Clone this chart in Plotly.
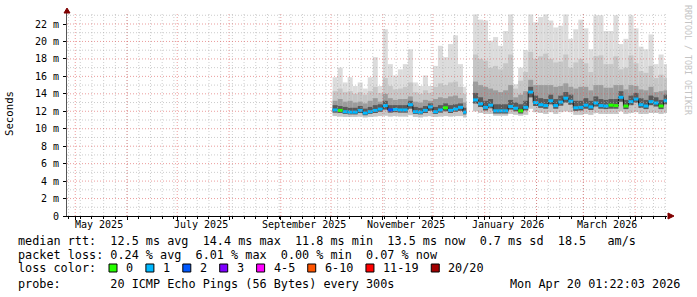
import plotly.graph_objects as go
import pandas as pd

# ---------------- data ----------------
x_range = ["2025-04-26 01:22:03", "2026-04-20 01:22:03"]
bucket_days = 3
seg1_start, seg1_end = "2025-10-02", "2025-12-21"
seg2_start, seg2_end = "2025-12-25", "2026-04-20 01:22:03"

# segment 1 (ms)
seg1_top = [15.9, 17.0, 15.3, 15.9, 14.9, 15.3, 14.6, 15.9, 18.2, 14.9, 21.4, 17.4, 16.1, 16.8,
            17.4, 19.1, 15.3, 14.9, 16.1, 14.9, 17.2, 19.5, 18.2, 19.7, 20.7, 17.4, 14.8]
seg1_q90 = [14.3, 14.6, 14.2, 14.3, 14.0, 14.2, 13.9, 14.3, 14.8, 14.1, 15.8, 14.9, 14.5, 14.6,
            14.8, 15.3, 14.2, 14.0, 14.4, 14.1, 14.8, 15.2, 15.0, 15.3, 15.4, 14.8, 14.0]
seg1_q75 = [13.2, 13.4, 13.1, 13.2, 13.0, 13.1, 12.9, 13.2, 13.5, 13.1, 14.0, 13.5, 13.3, 13.4,
            13.4, 13.7, 13.1, 13.0, 13.3, 13.2, 13.4, 13.6, 13.5, 13.7, 13.8, 13.5, 13.0]
seg1_q60 = [12.7, 12.6, 12.5, 12.4, 12.4, 12.6, 12.3, 12.5, 12.7, 12.8, 13.2, 12.7, 12.7, 12.7,
            12.7, 13.2, 12.5, 12.4, 12.6, 12.9, 12.5, 12.7, 12.9, 12.7, 12.8, 12.9, 12.4]
seg1_median = [12.15, 12.1, 11.95, 11.9, 11.9, 12.1, 11.8, 11.95, 12.1, 12.25, 12.65, 12.15, 12.2, 12.15,
               12.15, 12.75, 11.95, 11.9, 12.1, 12.5, 11.95, 12.15, 12.4, 12.1, 12.25, 12.45, 11.9]
seg1_q25 = [11.85, 11.8, 11.7, 11.65, 11.65, 11.8, 11.55, 11.7, 11.8, 11.95, 12.2, 11.85, 11.9, 11.85,
            11.85, 12.3, 11.7, 11.65, 11.8, 12.05, 11.7, 11.85, 12.0, 11.8, 11.95, 12.05, 11.65]
seg1_bottom = [11.45, 11.4, 11.35, 11.35, 11.35, 11.4, 11.3, 11.35, 11.4, 11.45, 11.5, 11.4, 11.45, 11.4,
               11.4, 11.55, 11.35, 11.3, 11.4, 11.45, 11.35, 11.4, 11.45, 11.4, 11.45, 11.45, 11.3]
seg1_loss = [1, 0, 1, 1, 1, 1, 1, 1, 1, 1, 1, 2, 1, 1, 1, 1, 1, 1, 1, 1, 1, 1, 0, 1, 1, 1, 1]

# segment 2 (ms)
seg2_top = [23.1, 22.5, 22.4, 20.1, 20.5, 19.5, 21.2, 23.1, 15.1, 17.0, 19.0, 23.1, 22.2, 22.8,
            23.1, 22.4, 21.6, 21.8, 23.1, 20.3, 21.4, 22.5, 21.5, 19.1, 23.0, 23.0, 21.2, 21.2,
            23.0, 19.7, 20.3, 23.0, 21.5, 19.4, 19.1, 20.8, 17.4, 18.5, 17.4]
seg2_q90 = [18.5, 18.0, 17.8, 17.0, 17.2, 16.8, 17.5, 18.5, 14.6, 15.5, 16.5, 18.8, 18.0, 18.3,
            18.6, 18.0, 17.6, 17.7, 18.5, 17.0, 17.6, 18.0, 17.5, 16.5, 18.3, 18.4, 17.4, 17.4,
            18.3, 16.8, 17.0, 18.4, 17.5, 16.6, 16.4, 17.2, 15.8, 16.2, 15.8]
seg2_q75 = [15.4, 15.0, 14.8, 14.6, 14.4, 14.2, 14.4, 15.0, 13.6, 13.9, 14.3, 15.6, 15.0, 15.0,
            15.0, 15.0, 14.8, 14.9, 15.2, 14.8, 14.6, 14.8, 14.8, 14.4, 15.0, 15.0, 14.7, 14.7,
            15.0, 15.0, 14.5, 15.0, 14.9, 14.5, 14.4, 14.8, 14.2, 14.3, 14.4]
seg2_q60 = [14.1, 13.6, 13.2, 13.4, 12.8, 12.8, 12.8, 13.3, 13.0, 12.8, 13.2, 14.8, 13.8, 13.5,
            13.4, 13.9, 13.4, 13.8, 14.2, 13.9, 13.2, 13.2, 13.5, 13.2, 13.7, 13.4, 13.3, 13.4,
            13.4, 14.3, 13.3, 13.8, 14.1, 13.5, 13.3, 13.8, 13.6, 13.3, 13.9]
seg2_median = [13.3, 12.85, 12.45, 12.7, 12.05, 12.05, 12.05, 12.55, 12.35, 12.05, 12.45, 14.2, 13.0, 12.75,
               12.65, 13.2, 12.65, 13.05, 13.5, 13.15, 12.4, 12.45, 12.7, 12.5, 12.95, 12.65, 12.6, 12.7,
               12.65, 13.6, 12.6, 13.1, 13.4, 12.75, 12.6, 13.1, 12.95, 12.6, 13.2]
seg2_q25 = [12.9, 12.5, 12.1, 12.35, 11.75, 11.75, 11.75, 12.2, 12.0, 11.75, 12.1, 13.6, 12.6, 12.4,
            12.3, 12.8, 12.3, 12.65, 13.0, 12.75, 12.05, 12.1, 12.3, 12.15, 12.55, 12.3, 12.25, 12.3,
            12.3, 13.1, 12.25, 12.7, 13.0, 12.4, 12.25, 12.7, 12.55, 12.25, 12.8]
seg2_bottom = [12.0, 11.8, 11.7, 11.7, 11.5, 11.5, 11.5, 11.7, 11.6, 11.5, 11.6, 12.3, 11.9, 11.8,
               11.7, 11.9, 11.7, 11.9, 12.0, 11.9, 11.6, 11.6, 11.7, 11.6, 11.8, 11.7, 11.7, 11.7,
               11.7, 12.0, 11.7, 11.8, 11.9, 11.7, 11.7, 11.8, 11.8, 11.7, 11.8]
seg2_loss = [1, 1, 1, 1, 1, 1, 1, 1, 1, 0, 1, 1, 1, 1, 1, 1, 1, 1, 1, 1, 1, 1, 1, 1, 1, 1, 1, 0,
             0, 1, 0, 1, 1, 1, 1, 1, 1, 0, 1]

month_grid_start = "2025-05-01"
week_grid_start = "2025-04-27"
month_label_dates = ["2025-05-15", "2025-07-15", "2025-09-15", "2025-11-15", "2026-01-15", "2026-03-15"]
month_labels = ["May 2025", "July 2025", "September 2025", "November 2025", "January 2026", "March 2026"]
y_tick_values = [0, 2, 4, 6, 8, 10, 12, 14, 16, 18, 20, 22]
y_tick_labels = ["0", "2 m", "4 m", "6 m", "8 m", "10 m", "12 m", "14 m", "16 m", "18 m", "20 m", "22 m"]
y_max = 23.26

loss_labels = ["0", "1", "2", "3", "4-5", "6-10", "11-19", "20/20"]
loss_colors = ["#26ff00", "#00b8ff", "#0059ff", "#7e00ff", "#ff00ff", "#ff5500", "#ff0000", "#a10000"]

stats_line1 = "median rtt:  12.5 ms avg  14.4 ms max  11.8 ms min  13.5 ms now  0.7 ms sd  18.5   am/s"
stats_line2 = "packet loss: 0.24 % avg  6.01 % max  0.00 % min  0.07 % now"
stats_line3 = "loss color:"
stats_line4 = "probe:       20 ICMP Echo Pings (56 Bytes) every 300s"
stamp = "Mon Apr 20 01:22:03 2026"

# ---------------- layout geometry ----------------
W, H = 697, 297
L, R, T, B = 67, 667, 13, 216
MONO = "DejaVu Sans Mono"
LEG_SIZE = 11.8
CW = LEG_SIZE * 0.602
smoke_colors = ["#dcdcdc", "#c6c6c6", "#9c9c9c", "#5a5a5a"]
red_grid = "rgba(222,90,90,0.6)"
gray_grid = "rgba(170,170,170,0.6)"
GRID_DASH = "1px,2px"


def px(xp):
    return (xp - L) / (R - L)


def py(yp):
    return (B - yp) / (B - T)


def loss_idx(n):
    if n <= 3:
        return n
    if n <= 5:
        return 4
    if n <= 10:
        return 5
    if n <= 19:
        return 6
    return 7


def nb(s):
    return s.replace(" ", "\u00a0")


fig = go.Figure()

segments = [
    (seg1_start, seg1_end, seg1_top, seg1_q90, seg1_q75, seg1_q60, seg1_median, seg1_q25, seg1_bottom, seg1_loss),
    (seg2_start, seg2_end, seg2_top, seg2_q90, seg2_q75, seg2_q60, seg2_median, seg2_q25, seg2_bottom, seg2_loss),
]

for (s0, s1, top, q90, q75, q60, med, q25, bot, loss) in segments:
    n = len(top)
    starts = list(pd.date_range(s0, periods=n, freq=f"{bucket_days}D"))
    ends = starts[1:] + [pd.Timestamp(s1)]
    widths = [(e - s).total_seconds() * 1000 for s, e in zip(starts, ends)]
    bands = [(bot, top), (bot, q90), (q25, q75), (q25, q60)]
    for (lo, hi), col in zip(bands, smoke_colors):
        fig.add_trace(go.Bar(
            x=starts, y=[h - l for l, h in zip(lo, hi)], base=lo, width=widths, offset=0,
            marker=dict(color=col, line=dict(width=0)), hoverinfo="skip", showlegend=False))
    fig.add_trace(go.Scatter(
        x=starts + [ends[-1]], y=med + [med[-1]], mode="lines", line=dict(color="#1a1a1a", width=1, shape="hv"),
        hoverinfo="skip", showlegend=False))
    for ci, col in enumerate(loss_colors):
        xs, ys = [], []
        for s, e, m, l in zip(starts, ends, med, loss):
            if loss_idx(l) == ci:
                xs += [s, e, None]
                ys += [m, m, None]
        if xs:
            fig.add_trace(go.Scatter(x=xs, y=ys, mode="lines", line=dict(color=col, width=3),
                                     hoverinfo="skip", showlegend=False))

# ---------------- grid drawn on top (as rrdtool does) ----------------
shapes = []
x0, x1 = pd.Timestamp(x_range[0]), pd.Timestamp(x_range[1])
for d in pd.date_range(week_grid_start, x1, freq="7D"):
    if d > x0:
        shapes.append(dict(type="line", xref="x", yref="paper", x0=d, x1=d, y0=0, y1=1, layer="above",
                           line=dict(color=gray_grid, width=1, dash=GRID_DASH)))
for d in pd.date_range(month_grid_start, x1, freq="MS"):
    shapes.append(dict(type="line", xref="x", yref="paper", x0=d, x1=d, y0=0, y1=1, layer="above",
                       line=dict(color=red_grid, width=1, dash=GRID_DASH)))
for v in range(1, int(y_max) + 1):
    if v not in y_tick_values:
        shapes.append(dict(type="line", xref="paper", yref="y", x0=0, x1=1, y0=v, y1=v, layer="above",
                           line=dict(color=gray_grid, width=1, dash=GRID_DASH)))
for v in y_tick_values[1:]:
    shapes.append(dict(type="line", xref="paper", yref="y", x0=0, x1=1, y0=v, y1=v, layer="above",
                       line=dict(color=red_grid, width=1, dash=GRID_DASH)))

# ---------------- annotations ----------------
ann = []
for d, t in zip(month_label_dates, month_labels):
    ann.append(dict(x=d, xref="x", y=py(224.5), yref="paper", text=t, showarrow=False,
                    xanchor="center", yanchor="middle", font=dict(family=MONO, size=10, color="#000")))
ann.append(dict(x=px(10), y=py(114), xref="paper", yref="paper", text="Seconds", textangle=-90,
                showarrow=False, xanchor="center", yanchor="middle",
                font=dict(family=MONO, size=10.7, color="#000")))
ann.append(dict(x=px(688), y=py(60), xref="paper", yref="paper", text=nb("RRDTOOL / TOBI OETIKER"),
                textangle=90, showarrow=False, xanchor="center", yanchor="middle",
                font=dict(family=MONO, size=8.3, color="#c4c4c4")))
for txt, yy in [(stats_line1, 241), (stats_line2, 255), (stats_line3, 268), (stats_line4, 284)]:
    ann.append(dict(x=px(16), y=py(yy), xref="paper", yref="paper", text=nb(txt), showarrow=False,
                    xanchor="left", yanchor="middle", font=dict(family=MONO, size=LEG_SIZE, color="#000")))
ann.append(dict(x=px(681.5), y=py(284), xref="paper", yref="paper", text=nb(stamp), showarrow=False,
                xanchor="right", yanchor="middle", font=dict(family=MONO, size=LEG_SIZE, color="#000")))

# loss colour legend: box, label, gap
bx = 109.0
for lab, col in zip(loss_labels, loss_colors):
    shapes.append(dict(type="rect", xref="paper", yref="paper", x0=px(bx), x1=px(bx + 8),
                       y0=py(272), y1=py(264), fillcolor=col, line=dict(color="#000", width=1)))
    ann.append(dict(x=px(bx + 15.2), y=py(268), xref="paper", yref="paper", text=nb(lab), showarrow=False,
                    xanchor="left", yanchor="middle", font=dict(family=MONO, size=LEG_SIZE, color="#000")))
    bx += 15.2 + len(lab) * CW + 14.6

# axis arrows
shapes.append(dict(type="path", xref="paper", yref="paper", xsizemode="pixel", ysizemode="pixel",
                   xanchor=1, yanchor=0, path="M 1,-3 L 7,0 L 1,3 Z", fillcolor="#800000",
                   line=dict(color="#800000", width=1)))
shapes.append(dict(type="path", xref="paper", yref="paper", xsizemode="pixel", ysizemode="pixel",
                   xanchor=0, yanchor=1, path="M -3,0 L 3,0 L 0,5 Z", fillcolor="#800000",
                   line=dict(color="#800000", width=1)))

fig.update_layout(
    width=W, height=H, margin=dict(l=L, r=W - R, t=T, b=H - B),
    paper_bgcolor="white", plot_bgcolor="white", barmode="overlay", showlegend=False,
    annotations=ann, shapes=shapes,
    xaxis=dict(type="date", range=x_range, tick0=month_grid_start, dtick="M1", showticklabels=False,
               showgrid=False, ticks="outside", ticklen=3, tickcolor="#000",
               minor=dict(tick0=week_grid_start, dtick=7 * 86400000, showgrid=False,
                          ticks="outside", ticklen=2, tickcolor="#000"),
               showline=True, linecolor="#000", linewidth=1, zeroline=False, fixedrange=True,
               layer="above traces"),
    yaxis=dict(range=[0, y_max], tickmode="array", tickvals=y_tick_values, ticktext=y_tick_labels,
               showgrid=False, ticks="outside", ticklen=3, tickcolor="#000", ticklabelstandoff=2,
               tickfont=dict(family=MONO, size=10, color="#000"),
               showline=True, linecolor="#555", linewidth=1, zeroline=False, fixedrange=True,
               layer="above traces"),
)

fig.write_html("out.html")
